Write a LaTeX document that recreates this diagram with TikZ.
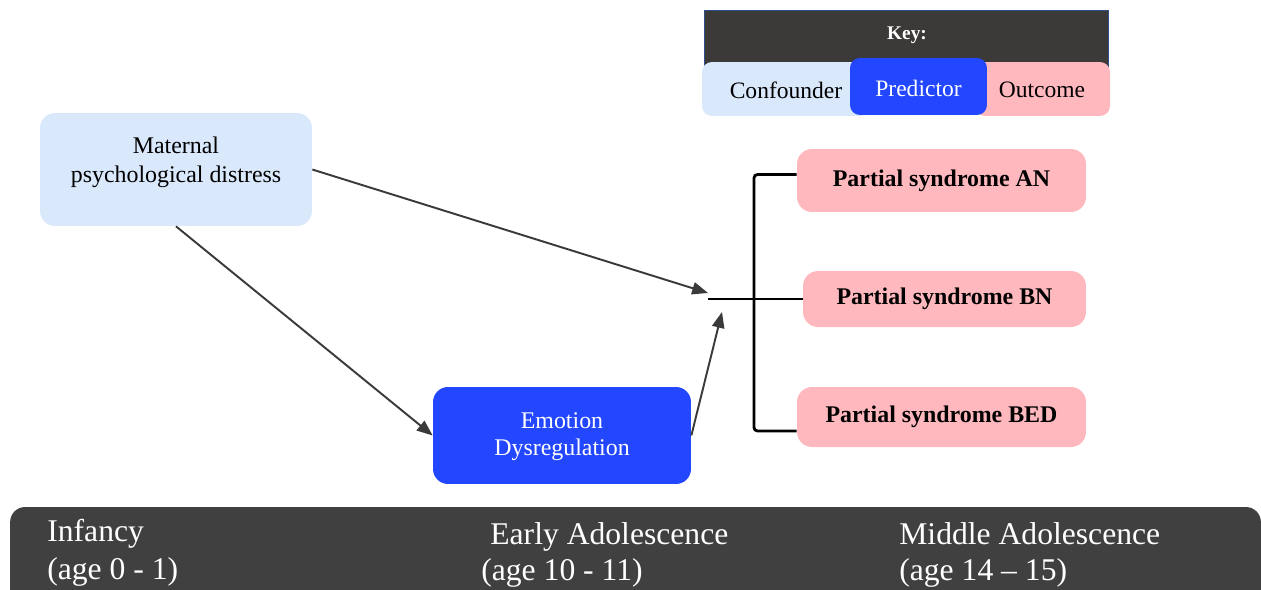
\documentclass[tikz,border=0pt]{standalone}
\usepackage{fontspec}
\setmainfont{Liberation Serif}
\usetikzlibrary{arrows.meta}
\definecolor{conf}{HTML}{DAE8FC}
\definecolor{pred}{HTML}{2346FF}
\definecolor{outc}{HTML}{FFB8BE}
\definecolor{keybg}{HTML}{3C3A38}
\definecolor{keyline}{HTML}{2F4E8C}
\definecolor{barbg}{HTML}{404040}
\definecolor{arr}{HTML}{3A3A3A}
\begin{document}
\begin{tikzpicture}[x=0.02cm,y=-0.02cm,
  box/.style={rectangle,rounded corners=0.3cm,inner sep=0pt,align=center,font=\fontsize{13.6}{15.5}\selectfont},
  confbox/.style={box,fill=conf},
  predbox/.style={box,fill=pred,text=white},
  outbox/.style={box,fill=outc,font=\fontsize{13.6}{15}\selectfont\bfseries},
  keybox/.style={box,rounded corners=0.2cm},
  arrow/.style={draw=arr,line width=1.1pt,-{Triangle[length=9pt,width=7pt]}},
  brace/.style={draw=black,line width=1.6pt,rounded corners=2pt},
  period/.style={anchor=base west,text=white,inner sep=0pt,font=\fontsize{18}{20}\selectfont}]
 \useasboundingbox (0,0) rectangle (1261,589);
 % key
 \node[draw=keyline,fill=keybg,minimum width=8.08cm,minimum height=1.16cm,inner sep=0pt] (keyhead) at (906,39) {};
 \node[text=white,font=\fontsize{11}{13}\selectfont\bfseries] (keytxt) at (907,35) {Key:};
 \node[keybox,fill=conf,minimum width=3.36cm,minimum height=1.08cm] (kconf) at (786,89) {};
 \node[keybox,fill=outc,minimum width=2.7cm,minimum height=1.08cm] (koutc) at (1042.5,89) {};
 \node[keybox,fill=pred,minimum width=2.74cm,minimum height=1.14cm] (kpred) at (918.5,86.5) {};
 \node[font=\fontsize{13.4}{15}\selectfont] (tconf) at (786,90) {Confounder};
 \node[font=\fontsize{13.4}{15}\selectfont,text=white] (tpred) at (918.5,88) {Predictor};
 \node[font=\fontsize{13.4}{15}\selectfont] (toutc) at (1042,90) {Outcome};
 % variables
 \node[confbox,minimum width=5.44cm,minimum height=2.26cm] (mat) at (176,169.5) {};
 \node[align=center,font=\fontsize{13.6}{16.5}\selectfont] (mattxt) at (176,162) {Maternal\\psychological distress};
 \node[predbox,minimum width=5.16cm,minimum height=1.94cm] (emo) at (562,435.5) {};
 \node[align=center,text=white,font=\fontsize{13.6}{15.5}\selectfont] (emotxt) at (562,437) {Emotion\\Dysregulation};
 \node[outbox,minimum width=5.78cm,minimum height=1.26cm] (an) at (941.5,180.5) {Partial syndrome AN};
 \node[outbox,minimum width=5.66cm,minimum height=1.12cm] (bn) at (944.5,299) {Partial syndrome BN};
 \node[outbox,minimum width=5.78cm,minimum height=1.2cm] (bed) at (941.5,417) {Partial syndrome BED};
 % paths
 \coordinate (inA) at (708,293);
 \coordinate (inB) at (722,312);
 \coordinate (jn) at (708,299);
 \coordinate (br) at (754,299);
 \draw[arrow] (mat.east) -- (inA);
 \draw[arrow] (mat.south) -- (emo.west);
 \draw[arrow] (emo.east) -- (inB);
 \draw[brace] ([yshift=0.12cm]an.west) -| (br) |- ([yshift=-0.28cm]bed.west);
 \draw[brace] (jn) -- (bn.west);
 % time line
 \node[fill=barbg,rounded corners=0.3cm,minimum width=25.02cm,minimum height=2.2cm,inner sep=0pt] (bar) at (635.5,562) {};
 \node[period] (t1) at (47,541) {Infancy};
 \node[period] (t1b) at (47,579) {(age 0 - 1)};
 \node[period] (t2) at (490,544) {Early Adolescence};
 \node[period] (t2b) at (481,580) {(age 10 - 11)};
 \node[period] (t3) at (899,544) {Middle Adolescence};
 \node[period] (t3b) at (899,580) {(age 14 -- 15)};
\end{tikzpicture}
\end{document}
